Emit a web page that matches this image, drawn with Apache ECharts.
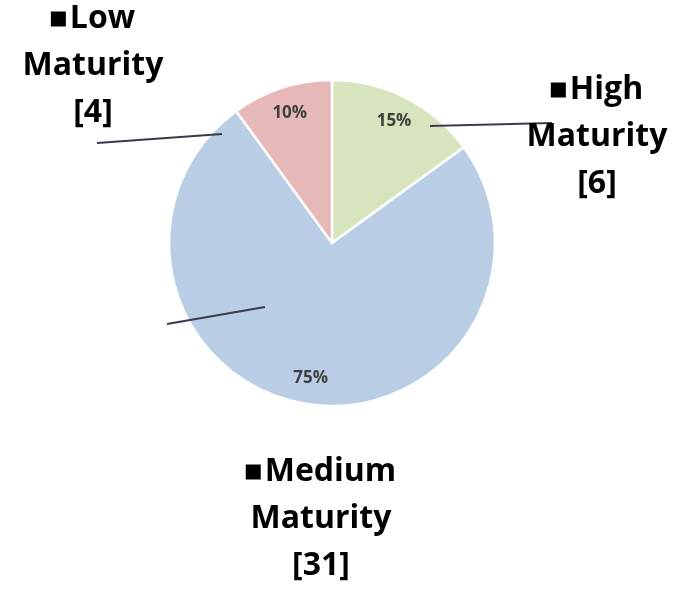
<!DOCTYPE html>
<html>
<head>
<meta charset="utf-8">
<script src="https://cdn.jsdelivr.net/npm/echarts@6/dist/echarts.min.js"></script>
<style>
  html, body { margin: 0; padding: 0; background: #fff; }
  #chart { width: 688px; height: 590px; }
</style>
</head>
<body>
<div id="chart"></div>
<script>
// Maturity groups, their counts and their share of the whole
const categories = ['High', 'Medium', 'Low'];
const counts = [6, 31, 4];
const shares = [15, 75, 10];

// Slice fills, in category order
const sliceColors = ['#d7e4bd', '#b9cde5', '#e6b9b8'];

// Pie geometry
const CENTER = [332, 243];
const RADIUS = 163;

// Where each category's name block sits, and its leader line
const nameAnchors = [[597, 137], [321, 519], [93, 66]];
const leaderLines = [
  [[430, 126], [552, 123]],
  [[265, 307], [167, 324]],
  [[222, 134], [97, 143]]
];

const chart = echarts.init(document.getElementById('chart'), null, { renderer: 'canvas' });

const sliceData = categories.map((c, i) => ({
  name: c + ' Maturity',
  value: shares[i],
  itemStyle: { color: sliceColors[i] }
}));

const shareData = categories.map((c, i) => ({
  name: c + ' Maturity',
  value: shares[i]
}));

const nameData = categories.map((c, i) => ({
  name: c + ' Maturity',
  value: shares[i],
  word: c,
  count: counts[i]
}));

const common = {
  type: 'pie',
  center: CENTER,
  startAngle: 90,
  clockwise: true,
  silent: true
};

chart.setOption({
  animation: false,
  backgroundColor: '#ffffff',
  series: [
    {
      // coloured slices
      ...common,
      radius: [0, RADIUS],
      z: 2,
      data: sliceData,
      itemStyle: { borderColor: '#ffffff', borderWidth: 2.5 },
      label: { show: false },
      labelLine: { show: false }
    },
    {
      // percentage labels placed toward the rim of each slice
      ...common,
      radius: [RADIUS * 0.64, RADIUS],
      z: 5,
      data: shareData,
      itemStyle: { color: 'rgba(0,0,0,0)', borderWidth: 0 },
      label: {
        show: true,
        position: 'inside',
        formatter: p => p.value + '%',
        fontFamily: 'Open Sans',
        fontWeight: 'bold',
        fontSize: 17,
        color: '#404040'
      },
      labelLine: { show: false }
    },
    {
      // category names with leader lines drawn over the slices
      ...common,
      radius: [0, RADIUS],
      z: 6,
      data: nameData,
      itemStyle: { color: 'rgba(0,0,0,0)', borderWidth: 0 },
      label: {
        show: true,
        position: 'outside',
        formatter: p =>
          '{sq|}{gap|}{t|' + p.data.word + '}\n{t|Maturity}\n{t|[' + p.data.count + ']}',
        align: 'center',
        rich: {
          sq: { width: 15, height: 15, backgroundColor: '#000000' },
          gap: { width: 4 },
          t: {
            fontFamily: 'Open Sans',
            fontWeight: 'bold',
            fontSize: 32,
            lineHeight: 47,
            color: '#000000',
            align: 'center'
          }
        }
      },
      labelLine: {
        show: true,
        lineStyle: { color: '#3a3a4a', width: 2 }
      },
      labelLayout: params => ({
        x: nameAnchors[params.dataIndex][0],
        y: nameAnchors[params.dataIndex][1],
        align: 'center',
        verticalAlign: 'middle',
        labelLinePoints: leaderLines[params.dataIndex]
      })
    }
  ]
});
</script>
</body>
</html>
